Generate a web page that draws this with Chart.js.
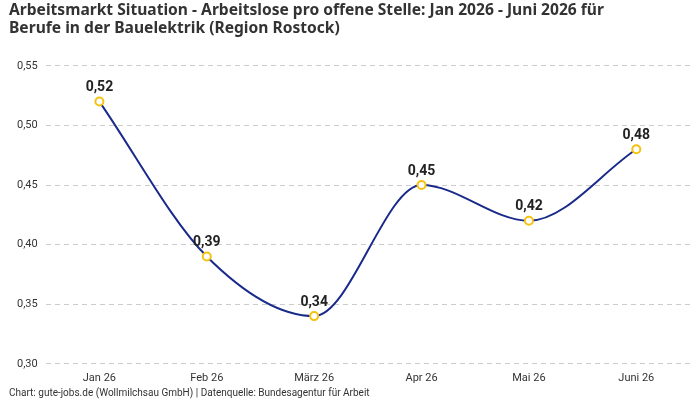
<!DOCTYPE html>
<html>
<head>
<meta charset="utf-8">
<script src="https://cdn.jsdelivr.net/npm/chart.js@4"></script>
<style>
  html,body{margin:0;padding:0;background:#fff;}
  #wrap{width:700px;height:400px;position:relative;}
</style>
</head>
<body>
<div id="wrap"><canvas id="chart"></canvas></div>
<script>
// ── Data ──
const months = ['Jan 26','Feb 26','März 26','Apr 26','Mai 26','Juni 26'];
const ratio = [0.52, 0.39, 0.34, 0.45, 0.42, 0.48];
const yTicks = [0.30, 0.35, 0.40, 0.45, 0.50, 0.55];

const fmt = v => v.toFixed(2).replace('.', ',');
const FONT = 'Roboto, "Noto Sans", sans-serif';
const TITLE_FONT = '"Noto Sans", Roboto, sans-serif';

// small plugin: value labels above each point
const valueLabels = {
  id: 'valueLabels',
  afterDatasetsDraw(chart){
    const ctx = chart.ctx;
    const meta = chart.getDatasetMeta(0);
    ctx.save();
    ctx.font = 'bold 14px ' + FONT;
    ctx.fillStyle = '#222';
    ctx.textAlign = 'center';
    ctx.textBaseline = 'bottom';
    meta.data.forEach((pt, i) => {
      ctx.fillText(fmt(ratio[i]), pt.x, pt.y - 7);
    });
    ctx.restore();
  }
};

new Chart(document.getElementById('chart'), {
  type: 'line',
  data: {
    labels: months,
    datasets: [{
      data: ratio,
      borderColor: '#1a2a8a',
      borderWidth: 2,
      cubicInterpolationMode: 'monotone',
      pointRadius: 4,
      pointHoverRadius: 4,
      pointBorderWidth: 2,
      pointBackgroundColor: '#fff',
      pointBorderColor: '#f5c211',
      fill: false
    }]
  },
  options: {
    responsive: true,
    maintainAspectRatio: false,
    animation: false,
    layout: {padding: {left: 9, right: 10, top: 0, bottom: 0}},
    plugins: {
      legend: {display: false},
      tooltip: {enabled: false},
      title: {
        display: true,
        align: 'start',
        text: ['Arbeitsmarkt Situation - Arbeitslose pro offene Stelle: Jan 2026 - Juni 2026 für',
               'Berufe in der Bauelektrik (Region Rostock)'],
        color: '#333',
        font: {family: TITLE_FONT, size: 15.6, weight: 'bold', lineHeight: 1.18},
        padding: {top: 1, bottom: 28}
      },
      subtitle: {
        display: true,
        position: 'bottom',
        align: 'start',
        text: 'Chart: gute-jobs.de (Wollmilchsau GmbH) | Datenquelle: Bundesagentur für Arbeit',
        color: '#333',
        font: {family: FONT, size: 10},
        padding: {top: 2, bottom: 1}
      }
    },
    scales: {
      x: {
        offset: true,
        grid: {display: false},
        border: {display: false},
        ticks: {color: '#333', font: {family: FONT, size: 11}, padding: 0}
      },
      y: {
        min: yTicks[0],
        max: yTicks[yTicks.length - 1],
        afterBuildTicks: axis => { axis.ticks = yTicks.map(v => ({value: v})); },
        grid: {color: '#cccccc', drawTicks: false},
        border: {display: false, dash: [5, 4]},
        ticks: {color: '#333', font: {family: FONT, size: 11}, padding: 8, callback: v => fmt(v)}
      }
    }
  },
  plugins: [valueLabels]
});
</script>
</body>
</html>
